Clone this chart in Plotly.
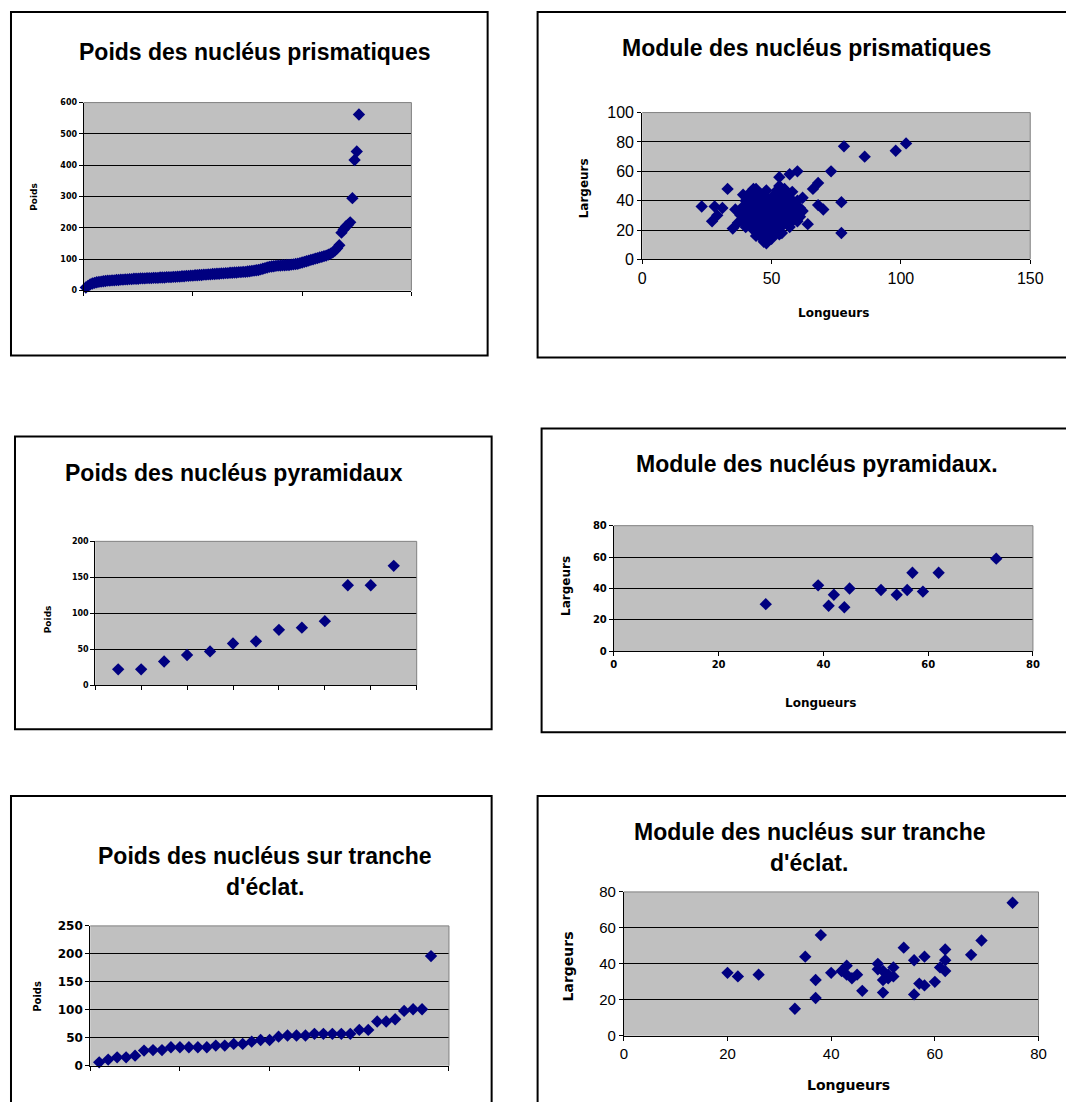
import plotly.graph_objects as go

# ---------------- DATA ----------------
prism_weights = [10, 15, 20,
                 23, 25, 27, 28, 29, 30, 31,
                 32, 32, 33, 33, 34, 34, 35, 35, 36, 36,
                 37, 37, 38, 38, 38, 39, 39, 39, 40, 40,
                 40, 41, 41, 41, 42, 42, 42, 43, 43, 43,
                 44, 44, 45, 45, 46, 46, 47, 47, 48, 48,
                 49, 49, 50, 50, 51, 51, 52, 52, 53, 53,
                 54, 54, 55, 55, 56, 56, 57, 57, 58, 58,
                 59, 59, 60, 60, 61, 62, 63, 64, 65, 66,
                 68, 70, 72, 74, 76, 77, 78, 79, 80, 80,
                 81, 81, 82, 82, 83, 84, 85, 86, 88, 90,
                 92, 94, 96, 98, 100, 102, 104, 106, 108, 110,
                 112, 115, 118, 122, 128, 135, 145, 185,
                 195, 205, 210, 218, 295, 417, 444, 562]

prism_lengths = [23, 27, 28, 29, 31, 33, 35, 43, 48, 53, 53, 57, 60, 62, 64, 66, 68, 68, 70, 73, 77, 77, 78, 86, 98, 102,
                 38, 39, 39, 40, 40, 40, 41, 41, 42, 42, 42, 43, 43, 43, 43, 44, 44, 44, 44, 45, 45, 45, 45, 46,
                 46, 46, 46, 46, 47, 47, 47, 47, 47, 48, 48, 48, 48, 48, 49, 49, 49, 49, 50, 50, 50, 50, 51, 51,
                 51, 51, 52, 52, 52, 52, 52, 53, 53, 53, 53, 53, 54, 54, 54, 54, 55, 55, 55, 55, 56, 56, 56, 56,
                 57, 57, 57, 58, 58, 58, 59, 59, 60, 60, 61, 61, 62, 37, 36, 39, 44, 50, 54, 57, 58, 60, 42, 48,
                 45, 51, 55, 49]
prism_widths = [36, 26, 36, 30, 35, 48, 21, 48, 11, 17, 56, 58, 60, 42, 24, 48, 52, 37, 34, 60, 39, 18, 77, 70, 74, 79,
                30, 26, 36, 22, 33, 40, 28, 37, 24, 31, 42, 20, 27, 35, 45, 23, 30, 38, 48, 18, 26, 33, 41, 15,
                22, 29, 36, 44, 12, 19, 25, 32, 39, 14, 21, 28, 35, 42, 17, 24, 31, 38, 20, 27, 34, 41, 22, 29,
                36, 44, 18, 25, 32, 39, 47, 21, 28, 35, 42, 50, 24, 31, 38, 45, 27, 34, 41, 48, 24, 30, 37, 44,
                28, 35, 42, 26, 33, 40, 29, 37, 32, 26, 35, 29, 33, 25, 34, 44, 16, 14, 18, 22, 46, 40, 46, 47,
                37, 33, 30, 27]

pyr_weights = [22, 22, 33, 42, 47, 58, 61, 77, 80, 89, 139, 139, 166]
pyr_lengths = [29, 39, 41, 42, 44, 45, 51, 54, 56, 57, 59, 62, 73]
pyr_widths = [30, 42, 29, 36, 28, 40, 39, 36, 39, 50, 38, 50, 59]

tranche_weights = [6, 11, 15, 15, 18, 27, 28, 28, 33, 33,
                   33, 33, 33, 36, 36, 39, 39, 43, 46, 46,
                   52, 54, 54, 54, 57, 57, 57, 57, 57, 64,
                   64, 79, 79, 83, 98, 101, 101, 196]
tranche_lengths = [20, 22, 26, 33, 35, 37, 37, 38, 40, 42, 43, 43, 44, 45, 46, 49, 49, 50, 50, 50,
                   51, 51, 52, 52, 54, 56, 56, 57, 58, 58, 60, 61, 62, 62, 62, 67, 69, 75]
tranche_widths = [35, 33, 34, 15, 44, 31, 21, 56, 35, 36, 39, 34, 32, 34, 25, 40, 37, 31, 24, 36,
                  32, 34, 38, 33, 49, 42, 23, 29, 44, 28, 30, 38, 48, 42, 36, 45, 53, 74]

titles = ["Poids des nucléus prismatiques", "Module des nucléus prismatiques",
          "Poids des nucléus pyramidaux", "Module des nucléus pyramidaux.",
          ["Poids des nucléus sur tranche", "d'éclat."],
          ["Module des nucléus sur tranche", "d'éclat."]]
label_poids = "Poids"
label_larg = "Largeurs"
label_long = "Longueurs"

# ---------------- LAYOUT HELPERS ----------------
# target positions are given in screen pixels; compensate the observed capture transform
S, CX, CY = 0.985, 3.0, 7.0
W, H = 1080, 1112
def fx(x): return ((x - CX) / S) / W
def fy(y): return 1 - ((y - CY) / S) / H

NAVY = '#000080'
TITLE_FONT = "Liberation Sans"
LBL_FONT = "DejaVu Sans"
MS = 9.5

fig = go.Figure()

def add_points(i, xs, ys):
    fig.add_trace(go.Scatter(
        x=xs, y=ys, mode='markers', xaxis=f'x{i}', yaxis=f'y{i}',
        marker=dict(symbol='diamond', size=MS, color=NAVY, line=dict(width=0)),
        showlegend=False, hoverinfo='skip', cliponaxis=False))

add_points(1, list(range(1, len(prism_weights) + 1)), prism_weights)
add_points(2, prism_lengths, prism_widths)
add_points(3, list(range(1, len(pyr_weights) + 1)), pyr_weights)
add_points(4, pyr_lengths, pyr_widths)
add_points(5, list(range(1, len(tranche_weights) + 1)), tranche_weights)
add_points(6, tranche_lengths, tranche_widths)

# plot-area pixel boxes (left, top, right, bottom), axis specs
panels = [
    dict(box=(82.7, 100.7, 410.7, 289), xr=[0, 150], xd=50, yr=[0, 600], yd=100, xlab=False,
         tf=dict(family=LBL_FONT, size=8, weight='bold', color='black')),
    dict(box=(641.7, 110.7, 1030, 257.7), xr=[0, 150], xd=50, yr=[0, 100], yd=20, xlab=True,
         tf=dict(family=TITLE_FONT, size=16, color='black')),
    dict(box=(94.3, 540, 416, 684), xr=[0, 14], xd=2, yr=[0, 200], yd=50, xlab=False,
         tf=dict(family=LBL_FONT, size=8, weight='bold', color='black')),
    dict(box=(613.3, 524.3, 1032.7, 650), xr=[0, 80], xd=20, yr=[0, 80], yd=20, xlab=True,
         tf=dict(family=LBL_FONT, size=10, weight='bold', color='black')),
    dict(box=(89.3, 925, 448.3, 1065), xr=[0, 40], xd=10, yr=[0, 250], yd=50, xlab=False,
         tf=dict(family=LBL_FONT, size=12, weight='bold', color='black')),
    dict(box=(623.3, 891, 1038.3, 1035), xr=[0, 80], xd=20, yr=[0, 80], yd=20, xlab=True,
         tf=dict(family=TITLE_FONT, size=15, color='black')),
]

layout = dict(width=W, height=H, margin=dict(l=0, r=0, t=0, b=0),
              paper_bgcolor='white', plot_bgcolor='#C0C0C0', showlegend=False)
shapes = []
for k, p in enumerate(panels, start=1):
    l, t, r, b = p['box']
    sfx = '' if k == 1 else str(k)
    layout[f'xaxis{sfx}'] = dict(domain=[fx(l), fx(r)], range=p['xr'], dtick=p['xd'], tick0=0,
                                 anchor=f'y{k}', showgrid=False, zeroline=False,
                                 showline=True, linecolor='black', linewidth=1,
                                 ticks='outside', ticklen=4, tickcolor='black', tickwidth=1,
                                 showticklabels=p['xlab'], tickfont=p['tf'], fixedrange=True)
    layout[f'yaxis{sfx}'] = dict(domain=[fy(b), fy(t)], range=p['yr'], dtick=p['yd'], tick0=0,
                                 anchor=f'x{k}', showgrid=True, gridcolor='black', gridwidth=1,
                                 zeroline=False, showline=True, linecolor='black', linewidth=1,
                                 ticks='outside', ticklen=4, tickcolor='black', tickwidth=1,
                                 tickfont=p['tf'], fixedrange=True)
    xref = 'x domain' if k == 1 else f'x{k} domain'
    yref = 'y domain' if k == 1 else f'y{k} domain'
    shapes.append(dict(type='line', xref=xref, yref=yref, x0=0, x1=1, y0=1, y1=1,
                       line=dict(color='#808080', width=1), layer='above'))
    shapes.append(dict(type='line', xref=xref, yref=yref, x0=1, x1=1, y0=0, y1=1,
                       line=dict(color='#808080', width=1), layer='above'))

# chart borders
borders = [(10, 10, 487, 354), (537, 10, 1090, 356), (14, 435, 491, 728),
           (541, 427, 1090, 731), (10, 795, 491, 1125), (537, 795, 1090, 1125)]
for (l, t, r, b) in borders:
    shapes.append(dict(type='rect', xref='paper', yref='paper', x0=fx(l), x1=fx(r), y0=fy(b), y1=fy(t),
                       line=dict(color='black', width=2), fillcolor='rgba(0,0,0,0)', layer='above'))
layout['shapes'] = shapes

ann = []
def text(x, y, s, size, family=TITLE_FONT, angle=0, bold=True):
    ann.append(dict(x=fx(x), y=fy(y), xref='paper', yref='paper', text=s, showarrow=False,
                    xanchor='center', yanchor='middle', textangle=angle,
                    font=dict(family=family, size=size, color='black', weight='bold' if bold else 'normal')))

TS = 23
text(254, 50, titles[0], TS)
text(806, 46, titles[1], TS)
text(233, 472, titles[2], TS)
text(817, 463, titles[3], TS)
text(264, 855, titles[4][0], TS)
text(264, 886, titles[4][1], TS)
text(809, 831, titles[5][0], TS)
text(809, 862, titles[5][1], TS)

# axis titles
text(33, 195, label_poids, 9, LBL_FONT, -90)
text(583, 187, label_larg, 12, LBL_FONT, -90)
text(833, 311, label_long, 12, LBL_FONT)
text(47, 618, label_poids, 9, LBL_FONT, -90)
text(566, 585, label_larg, 12, LBL_FONT, -90)
text(820, 702, label_long, 12, LBL_FONT)
text(37, 995, label_poids, 10, LBL_FONT, -90)
text(567, 966, label_larg, 14, LBL_FONT, -90)
text(848, 1084, label_long, 14, LBL_FONT)
layout['annotations'] = ann

fig.update_layout(**layout)
fig.write_html("out.html", config={'displayModeBar': False, 'staticPlot': True},
               post_script="document.body.style.margin='0px';document.body.style.overflow='hidden';")
